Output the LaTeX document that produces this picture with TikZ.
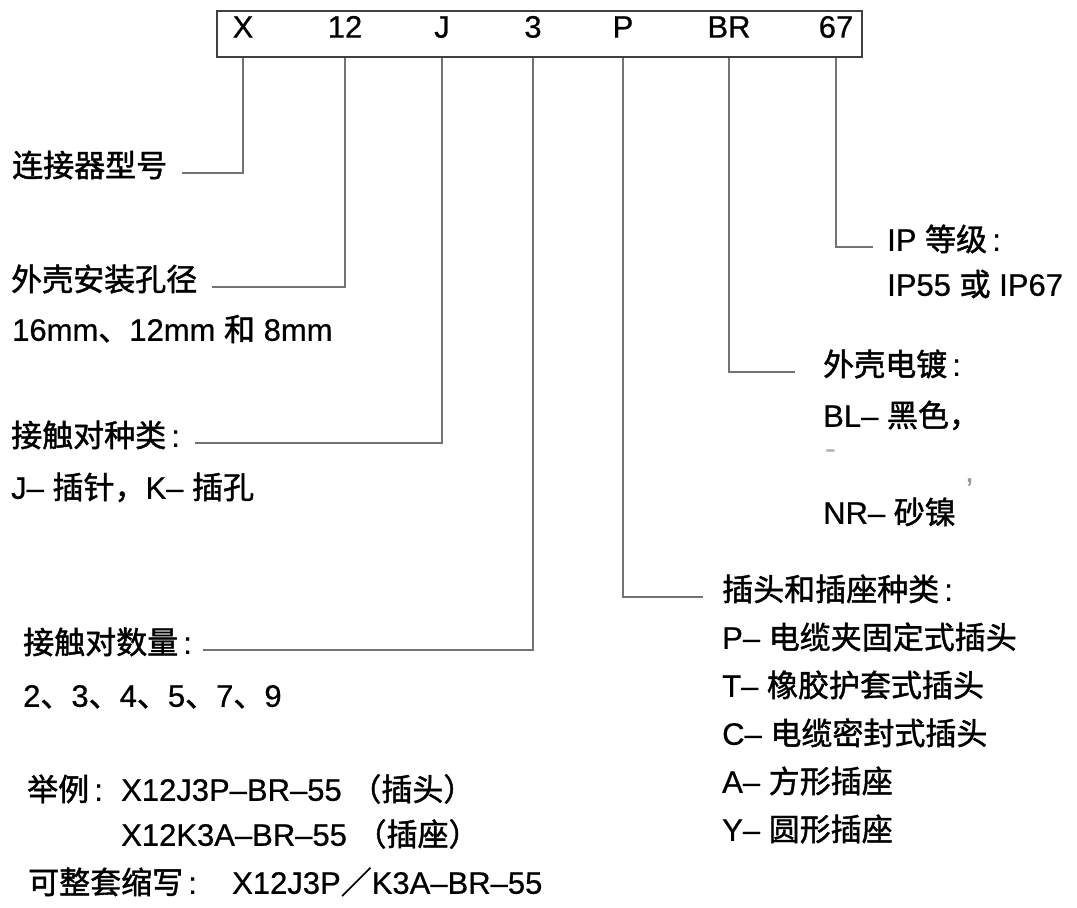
\documentclass[tikz,border=0pt]{standalone}
\usepackage{fontspec}
\setmainfont{Liberation Sans}[FakeBold=0.6]
\newfontfamily\zhfont{Noto Sans CJK SC}[FakeBold=1.4]
\newcommand{\zh}[1]{{\zhfont #1}}

\tikzset{
  code/.style={inner sep=0pt, font=\fontsize{31}{36}\selectfont,
    text height=0.72em, text depth=0pt},
  lbl/.style={anchor=west, inner sep=0pt, font=\fontsize{31}{36}\selectfont,
    text height=0.8em, text depth=0.05em},
  lead/.style={draw=black!55, line width=1.3pt},
}

\begin{document}
\begin{tikzpicture}[x=1pt, y=-1pt]

  \fill[white] (0,0) rectangle (1077,908);

  % Code box across the top
  \node[draw=black!75, line width=1.6pt, minimum width=645pt,
    minimum height=46pt, inner sep=0pt] (box) at (539.5,34) {};
  \node[code] (cx)  at (243,34) {X};
  \node[code] (csz) at (345,34) {12};
  \node[code] (cct) at (442,34) {J};
  \node[code] (ccn) at (533,34) {3};
  \node[code] (cpt) at (623,34) {P};
  \node[code] (cpl) at (729,34) {BR};
  \node[code] (cip) at (836,34) {67};

  % Left column
  \node[lbl] (hx)  at (12,173) {\zh{连接器型号}};
  \node[lbl] (hsz) at (11,287) {\zh{外壳安装孔径}};
  \node[lbl] (dsz) at (12,337) {16mm\zh{、}12mm \zh{和} 8mm};
  \node[lbl] (hct) at (11,443) {\zh{接触对种类}\,:};
  \node[lbl] (dct) at (11,495) {J-- \zh{插针，}K-- \zh{插孔}};
  \node[lbl] (hcn) at (23,650) {\zh{接触对数量}\,:};
  \node[lbl] (dcn) at (23,703) {2\zh{、}3\zh{、}4\zh{、}5\zh{、}7\zh{、}9};

  % Examples
  \node[lbl] (ex1) at (27,797) {\makebox[94pt][l]{\zh{举例}\,:}X12J3P--BR--55 \zh{（插头）}};
  \node[lbl] (ex2) at (121,842) {X12K3A--BR--55 \zh{（插座）}};
  \node[lbl] (ex3) at (28,890) {\makebox[204pt][l]{\zh{可整套缩写}\,:}X12J3P\zh{／}K3A--BR--55};

  % Right column
  \node[lbl] (hip)  at (887,247) {IP \zh{等级}\,:};
  \node[lbl] (dip)  at (887,292) {IP55 \zh{或} IP67};
  \node[lbl] (hpl)  at (823,372) {\zh{外壳电镀}\,:};
  \node[lbl] (dpl1) at (823,423) {BL-- \zh{黑色，}};
  \node[lbl, text=black!30] (dpl2) at (825,455) {-};
  \node[lbl, text=black!40] (dpl2c) at (965,478) {,};
  \node[lbl] (dpl3) at (823,520) {NR-- \zh{砂镍}};
  \node[lbl] (hpt)  at (722,597) {\zh{插头和插座种类}\,:};
  \foreach \k/\t [count=\i] in {P/电缆夹固定式插头, T/橡胶护套式插头,
      C/电缆密封式插头, A/方形插座, Y/圆形插座}
    \node[lbl] (pt\i) at (722,597+48*\i) {\k-- \zh{\t}};

  % Lead lines
  \draw[lead] (cx  |- box.south) |- ([xshift=15pt]hx.east);
  \draw[lead] (csz |- box.south) |- ([xshift=15pt]hsz.east);
  \draw[lead] (cct |- box.south) |- ([xshift=15pt]hct.east);
  \draw[lead] (ccn |- box.south) |- ([xshift=11pt]hcn.east);
  \draw[lead] (cpt |- box.south) |- ([xshift=-19pt]hpt.west);
  \draw[lead] (cpl |- box.south) |- ([xshift=-28pt]hpl.west);
  \draw[lead] (cip |- box.south) |- ([xshift=-14pt]hip.west);

\end{tikzpicture}
\end{document}
